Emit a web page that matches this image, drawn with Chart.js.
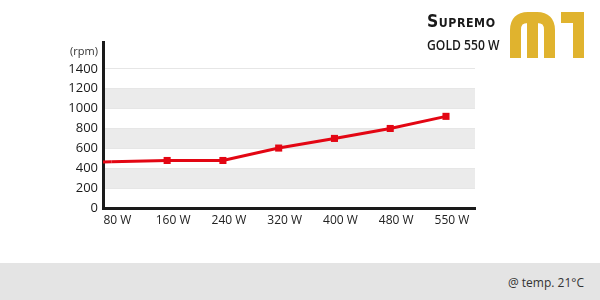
<!DOCTYPE html>
<html>
<head>
<meta charset="utf-8">
<script src="https://cdn.jsdelivr.net/npm/chart.js@4/dist/chart.umd.min.js"></script>
<style>
  html, body { margin: 0; padding: 0; background: #fff; }
  #wrap { position: relative; width: 600px; height: 300px; overflow: hidden; font-family: "Open Sans", sans-serif; }
  #chart { position: absolute; left: 0; top: 0; }
  .brand { position: absolute; left: 427px; color: #1a1a1a; white-space: nowrap; transform-origin: left top; }
  #b1 { top: 11px; font-size: 17px; font-weight: bold; font-variant: small-caps; font-family: "DejaVu Sans", sans-serif; letter-spacing: 0.6px; transform: scaleX(0.92); }
  #b2 { top: 34px; font-size: 15px; font-weight: 600; font-family: "Open Sans", sans-serif; transform: scaleX(0.81); }
  #logo { position: absolute; left: 510px; top: 12px; }
  #footer { position: absolute; left: 0; top: 263px; width: 600px; height: 37px; background: #e4e4e4; }
  #temp { position: absolute; right: 16px; top: 11px; font-size: 12px; color: #333; }
</style>
</head>
<body>
<div id="wrap">
  <canvas id="chart" width="600" height="300"></canvas>
  <div class="brand" id="b1">Supremo</div>
  <div class="brand" id="b2">GOLD 550 W</div>
  <svg id="logo" width="76" height="46" viewBox="0 0 76 46">
    <g fill="none" stroke="#e0b32e" stroke-width="11">
      <path d="M5.5 46 V18 Q5.5 5.5 18 5.5 H27 Q39.5 5.5 39.5 18 V46"/>
      <path d="M22.5 6 V46"/>
    </g>
    <path d="M51 0 H74 V46 H63 V11 H51 Z" fill="#e0b32e"/>
  </svg>
  <div id="footer"><span id="temp">@ temp. 21°C</span></div>
</div>
<script>
// chart data
const categories = ['80 W', '160 W', '240 W', '320 W', '400 W', '480 W', '550 W'];
const fanSpeed = [465, 478, 478, 603, 700, 800, 922];
const yTicks = [0, 200, 400, 600, 800, 1000, 1200, 1400];
const yUnit = '(rpm)';
const bands = [[200, 400], [600, 800], [1000, 1200]];

const RED = '#e30613';

// grey bands + line extension back to the axis
const backdrop = {
    id: 'backdrop',
    beforeDraw(chart) {
        const { ctx, chartArea: a, scales: { y } } = chart;
        ctx.save();
        ctx.fillStyle = '#ebebeb';
        bands.forEach(([lo, hi]) => {
            const top = y.getPixelForValue(hi);
            const bot = y.getPixelForValue(lo);
            ctx.fillRect(a.left, top, a.right - a.left, bot - top);
        });
        ctx.restore();
    },
    beforeDatasetsDraw(chart) {
        const { ctx, chartArea: a, scales: { x, y } } = chart;
        const py = y.getPixelForValue(fanSpeed[0]);
        ctx.save();
        ctx.strokeStyle = RED;
        ctx.lineWidth = 3;
        ctx.beginPath();
        ctx.moveTo(a.left, py + 0.3);
        ctx.lineTo(x.getPixelForValue(0), py);
        ctx.stroke();
        ctx.restore();
    }
};

const ctx = document.getElementById('chart').getContext('2d');
new Chart(ctx, {
    type: 'line',
    data: {
        datasets: [{
            data: fanSpeed.map((v, i) => ({ x: i, y: v })),
            borderColor: RED,
            backgroundColor: RED,
            borderWidth: 3,
            tension: 0,
            pointStyle: 'rect',
            pointRadius: c => (c.dataIndex === 0 ? 0 : 5),
            pointHoverRadius: 5,
            pointBorderWidth: 0
        }]
    },
    options: {
        responsive: false,
        animation: false,
        layout: { padding: { top: 42, right: 125, bottom: 62, left: 0 } },
        plugins: { legend: { display: false }, tooltip: { enabled: false } },
        scales: {
            x: {
                type: 'linear',
                min: -0.15,
                max: 6.52,
                afterBuildTicks: s => { s.ticks = categories.map((c, i) => ({ value: i })); },
                afterFit: s => { s.height = 30; },
                grid: { display: false, drawTicks: false },
                border: { display: true, color: '#1a1a1a', width: 3 },
                ticks: {
                    callback: v => categories[v],
                    color: '#222',
                    font: { family: 'Open Sans', size: 12 },
                    padding: 5,
                    labelOffset: 6,
                    maxRotation: 0,
                    autoSkip: false
                }
            },
            y: {
                min: 0,
                max: 1670,
                afterBuildTicks: s => {
                    s.ticks = yTicks.map(v => ({ value: v }));
                    s.ticks.push({ value: 1575 });
                },
                afterFit: s => { s.width = 103; },
                grid: {
                    drawTicks: false,
                    color: c => (c.tick && c.tick.value <= 1400) ? '#e6e6e6' : 'rgba(0,0,0,0)',
                    lineWidth: 1
                },
                border: { display: true, color: '#1a1a1a', width: 3 },
                ticks: {
                    callback: v => (v > 1400 ? yUnit : String(v)),
                    color: c => (c.tick && c.tick.value > 1400 ? '#333' : '#1a1a1a'),
                    font: c => (c.tick && c.tick.value > 1400
                        ? { family: 'Open Sans', size: 11 }
                        : { family: 'Open Sans', size: 13 }),
                    padding: 5
                }
            }
        }
    },
    plugins: [backdrop]
});
</script>
</body>
</html>
